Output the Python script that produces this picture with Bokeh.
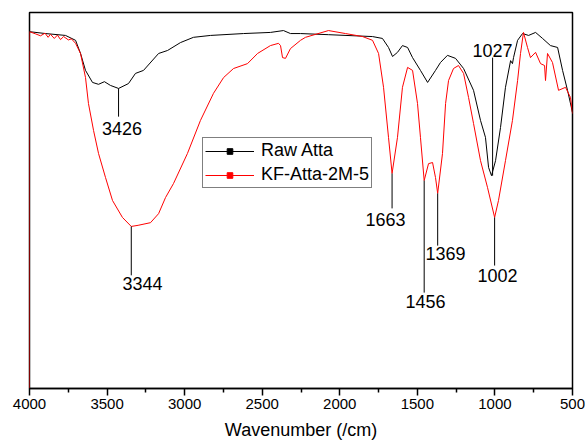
from bokeh.plotting import figure
from bokeh.models import Range1d, FixedTicker, Legend, LegendItem, ColumnDataSource
from bokeh.embed import file_html
from bokeh.resources import INLINE
from bokeh.core.properties import value

# ---- data (wavenumber in 1/cm, transmittance in a.u.) ----
raw_wn = [4000, 3897, 3768, 3703, 3671, 3639, 3594, 3555, 3517, 3478, 3426, 3362, 3317,
          3265, 3168, 3110, 3027, 2943, 2833, 2621, 2447, 2363, 2318, 2253, 2073, 1789,
          1725, 1686, 1660, 1628, 1596, 1563, 1531, 1480, 1434, 1383, 1351, 1306, 1254,
          1202, 1138, 1093, 1061, 1041, 1022, 996, 964, 932, 899, 887, 880, 854, 822, 783,
          738, 693, 642, 596, 564, 532, 500]
raw_t = [94.9, 94.4, 93.9, 92.6, 89.1, 84.6, 81.4, 80.9, 81.6, 80.6, 79.8, 81.1, 83.8,
         84.6, 89.1, 89.9, 92.0, 93.4, 93.9, 94.4, 94.7, 95.2, 94.4, 94.4, 94.1, 93.6,
         93.1, 90.7, 88.3, 89.4, 91.2, 90.7, 88.0, 84.6, 81.4, 84.6, 86.7, 88.6, 87.8,
         85.1, 79.3, 71.3, 66.8, 58.8, 56.6, 60.6, 69.4, 80.1, 87.2, 86.4, 88.0, 92.6, 94.4,
         93.9, 94.7, 93.1, 91.2, 90.7, 84.6, 79.3, 73.4]

kf_wn = [4000, 4000, 3960, 3929, 3900, 3880, 3865, 3840, 3820, 3800, 3780, 3749, 3730,
         3703, 3671, 3639, 3620, 3587, 3555, 3510, 3465, 3401, 3344, 3300, 3220, 3168,
         3123, 3072, 2982, 2898, 2814, 2749, 2685, 2595, 2530, 2447, 2395, 2382, 2369,
         2350, 2318, 2253, 2221, 2073, 1963, 1853, 1789, 1750, 1718, 1686, 1663, 1628,
         1596, 1563, 1531, 1499, 1480, 1456, 1428, 1402, 1383, 1369, 1338, 1318, 1299,
         1267, 1235, 1202, 1170, 1138, 1093, 1048, 1002, 977, 932, 887, 854, 835, 816,
         790, 771, 738, 706, 680, 674, 661, 629, 590, 545, 513, 500]
kf_t = [0.0, 94.9, 94.3, 93.8, 94.5, 93.4, 94.2, 93.1, 94.0, 92.8, 93.6, 92.7, 93.0,
        91.8, 89.1, 82.7, 75.8, 68.6, 62.5, 56.1, 50.0, 45.5, 43.1, 43.4, 44.1, 46.5,
        50.8, 54.5, 62.5, 71.3, 78.5, 82.7, 85.1, 86.4, 89.1, 91.2, 91.8, 91.2, 88.0,
        87.8, 90.4, 92.6, 93.4, 95.2, 94.4, 93.6, 92.6, 89.1, 80.1, 66.8, 57.2, 66.8,
        80.1, 85.4, 84.6, 75.8, 66.8, 55.3, 59.8, 60.1, 56.1, 51.9, 62.5, 75.8, 81.9,
        85.1, 85.9, 83.8, 77.4, 70.5, 60.6, 53.5, 45.5, 50.0, 60.6, 71.3, 81.9, 89.1, 94.7,
        90.7, 88.0, 89.4, 86.4, 85.9, 81.9, 89.1, 86.7, 79.3, 80.1, 77.4, 73.1]

series_names = ["Raw Atta", "KF-Atta-2M-5"]
x_ticks = [4000, 3500, 3000, 2500, 2000, 1500, 1000, 500]
x_minor = [3750, 3250, 2750, 2250, 1750, 1250, 750]

peak_labels = ["3426", "3344", "1663", "1456", "1369", "1002", "1027"]
peak_wn = [3426, 3344, 1663, 1456, 1369, 1002, 1015]
peak_t = [79.8, 43.1, 57.2, 55.3, 51.9, 45.5, 56.6]

# annotation layout (line end level, label centre)
ann_end_t = [72.3, 30.1, 47.9, 25.5, 38.0, 32.7, 88.0]
ann_text_wn = [3404, 3272, 1705, 1447, 1318, 983, 1015]
ann_text_t = [69.1, 27.9, 44.9, 23.1, 35.9, 30.1, 89.9]

FONT = "Liberation Sans"

p = figure(width=585, height=442, output_backend="svg", toolbar_location=None, title=None,
           x_range=Range1d(4000, 500), y_range=Range1d(0, 100),
           min_border_left=29, min_border_top=12, min_border_right=13, min_border_bottom=50)
p.grid.visible = False
p.yaxis.visible = False
p.outline_line_color = "black"
p.outline_line_width = 1.5
p.outline_line_alpha = 1.0

ax = p.xaxis[0]
ax.ticker = FixedTicker(ticks=x_ticks, minor_ticks=x_minor)
ax.axis_line_width = 1.5
ax.major_tick_out = 7
ax.major_tick_in = 0
ax.minor_tick_out = 4
ax.minor_tick_in = 0
ax.major_tick_line_width = 1.5
ax.minor_tick_line_width = 1.5
ax.major_label_standoff = 3
ax.major_label_text_font = FONT
ax.major_label_text_font_size = "15px"
ax.major_label_text_color = "black"
ax.axis_label = "Wavenumber (/cm)"
ax.axis_label_text_font = FONT
ax.axis_label_text_font_size = "18px"
ax.axis_label_text_font_style = "normal"
ax.axis_label_text_color = "black"
ax.axis_label_standoff = 8

r_raw = p.line(raw_wn, raw_t, line_color="black", line_width=1)
r_kf = p.line(kf_wn, kf_t, line_color="red", line_width=1)

# annotation lines and labels
seg = ColumnDataSource(dict(x=peak_wn, y0=peak_t, y1=ann_end_t))
p.segment(x0="x", y0="y0", x1="x", y1="y1", source=seg, line_color="black", line_width=1)
lab = ColumnDataSource(dict(x=ann_text_wn, y=ann_text_t, t=peak_labels))
p.text(x="x", y="y", text="t", source=lab, text_font=value(FONT), text_font_size="18px",
       text_align="center", text_baseline="middle", text_color="black")

# legend symbols: one-row marker renderers with an undefined y, so nothing shows in the plot
nan = float("nan")
m_raw = p.scatter(x=[raw_wn[0]], y=[nan], marker="square", size=3,
                  fill_color="black", line_color="black")
m_kf = p.scatter(x=[kf_wn[0]], y=[nan], marker="square", size=3,
                 fill_color="red", line_color="red")

legend = Legend(items=[LegendItem(label=series_names[0], renderers=[r_raw, m_raw]),
                       LegendItem(label=series_names[1], renderers=[r_kf, m_kf])],
                location=(173, 200))
legend.label_text_font = FONT
legend.label_text_font_size = "18px"
legend.label_text_color = "black"
legend.glyph_width = 49
legend.glyph_height = 14
legend.label_height = 14
legend.label_standoff = 7
legend.spacing = 3
legend.padding = 2
legend.margin = 0
legend.border_line_color = "black"
legend.border_line_width = 1
legend.background_fill_alpha = 1.0
p.add_layout(legend, "center")

open("out.html", "w").write(file_html(p, INLINE))
